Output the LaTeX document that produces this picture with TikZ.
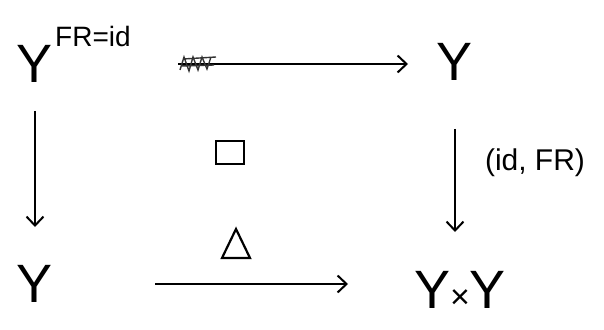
\documentclass[tikz,border=0pt]{standalone}
\usepackage{fontspec}
\setmainfont{Liberation Sans}
\usetikzlibrary{arrows.meta}
\tikzset{
  big/.style={inner sep=0pt, font=\fontsize{54}{60}\selectfont},
  sup/.style={inner sep=0pt, font=\fontsize{28}{32}\selectfont},
  lab/.style={inner sep=0pt, font=\fontsize{30}{34}\selectfont},
  arr/.style={line width=2.2pt, -{Straight Barb[length=9pt,width=17pt,line width=2pt]}},
  shp/.style={line width=2.2pt},
}
\begin{document}
\begin{tikzpicture}[x=1pt,y=-1pt]
\useasboundingbox (0,0) rectangle (604,329);
\node[big] (tl) at (35,64) {Y};
\node[sup, anchor=west] (tlsup) at (55,36) {FR=id};
\node[big] (tr) at (455,62) {Y};
\node[big] (bl) at (35,284) {Y};
\node[big] (br) at (460,290) {Y{\fontsize{34}{34}\selectfont ×}Y};
\node[lab] (lbl) at (535,163) {(id, FR)};
% square and triangle
\draw[shp] (216,141) rectangle (244,164);
\draw[shp] (222,258) -- (250,258) -- (236,229) -- cycle;
% arrows
\draw[arr, shorten <=125pt, shorten >=47pt] (tl) -- (tl -| tr);
\draw[arr, shorten <=28pt, shorten >=57pt] (tl) -- (tl |- bl);
\draw[arr, shorten <=48pt, shorten >=58pt] (tr) -- (tr |- br);
\draw[arr, shorten <=102pt, shorten >=112pt] (bl) -- (bl -| br);
% scratched-out mark at the start of the top arrow
\draw[line width=1.4pt, black!80] (180,70) -- (184,57) -- (189,71) -- (193,57) -- (198,70) -- (202,57) -- (207,69) -- (211,57) (183,59) -- (216,57) (181,66) -- (214,65);
\end{tikzpicture}
\end{document}
